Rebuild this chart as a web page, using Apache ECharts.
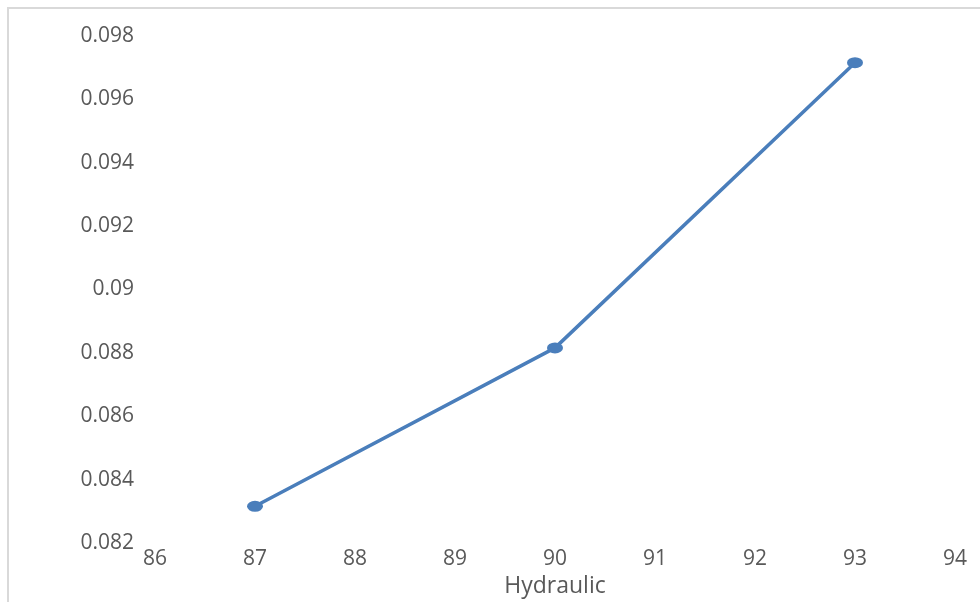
<!DOCTYPE html>
<html>
<head>
<meta charset="utf-8">
<script src="https://cdn.jsdelivr.net/npm/echarts@6/dist/echarts.min.js"></script>
<style>
html,body{margin:0;padding:0;width:980px;height:602px;overflow:hidden;background:#fff;}
#frame{position:absolute;left:7px;top:7px;width:1100px;height:800px;border:2px solid #d9d9d9;box-sizing:border-box;}
#chart{position:absolute;left:0;top:0;width:980px;height:602px;}
</style>
</head>
<body>
<div id="frame"></div>
<div id="chart"></div>
<script>
const xValues = [87, 90, 93];
const yValues = [0.0830, 0.0880, 0.0970];
const xAxisName = 'Hydraulic';
const xRange = [86, 94];
const yRange = [0.082, 0.098];

const chart = echarts.init(document.getElementById('chart'), null, {renderer: 'canvas'});
const labelColor = '#595959';
const fontFamily = '"Open Sans", "Liberation Sans", sans-serif';
chart.setOption({
  backgroundColor: 'transparent',
  animation: false,
  grid: {left: 155, right: 25, top: 31, bottom: 64, containLabel: false, outerBoundsMode: 'none'},
  xAxis: {
    type: 'value',
    min: xRange[0], max: xRange[1], interval: 1,
    name: xAxisName,
    nameLocation: 'middle',
    nameGap: 37,
    nameTextStyle: {color: labelColor, fontSize: 23, fontFamily: fontFamily},
    axisLine: {show: false},
    axisTick: {show: false},
    splitLine: {show: false},
    axisLabel: {color: labelColor, fontSize: 21, fontFamily: fontFamily, margin: 11}
  },
  yAxis: {
    type: 'value',
    min: yRange[0], max: yRange[1], interval: 0.002,
    axisLine: {show: false},
    axisTick: {show: false},
    splitLine: {show: false},
    axisLabel: {color: labelColor, fontSize: 21, fontFamily: fontFamily, margin: 21,
      verticalAlign: 'top', lineHeight: 10,
      formatter: function (v) { return String(parseFloat(v.toFixed(3))); }}
  },
  series: [{
    type: 'line',
    data: xValues.map((x, i) => [x, yValues[i]]),
    symbol: 'circle',
    symbolSize: [16, 11],
    lineStyle: {color: '#4A7EBB', width: 3.5},
    itemStyle: {color: '#4A7EBB'}
  }]
});
</script>
</body>
</html>
